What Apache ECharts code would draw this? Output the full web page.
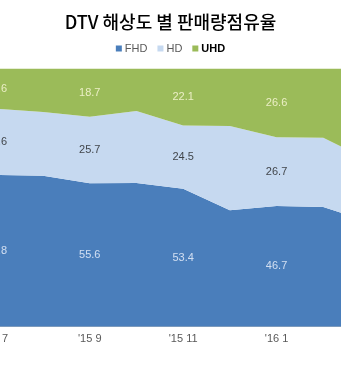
<!DOCTYPE html>
<html>
<head>
<meta charset="utf-8">
<style>
  html, body { margin: 0; padding: 0; background: #fff; }
  #chart { width: 341px; height: 381px; }
</style>
<script src="https://cdn.jsdelivr.net/npm/echarts@6/dist/echarts.min.js"></script>
</head>
<body>
<div id="chart"></div>
<script>
// Monthly share of DTV sales by resolution (%)
const months = ["'15 7", "'15 8", "'15 9", "'15 10", "'15 11", "'15 12", "'16 1", "'16 2", "'16 3"];
const fhd = [58.8, 58.5, 55.6, 55.7, 53.4, 45.1, 46.7, 46.4, 40.5];
const hd  = [25.6, 24.7, 25.7, 27.8, 24.5, 32.6, 26.7, 26.8, 23.7];
const uhd = [15.6, 16.8, 18.7, 16.5, 22.1, 22.3, 26.6, 26.8, 35.8];
// months whose values are printed on the chart
const labeledMonths = [0, 2, 4, 6, 8];

const seriesDefs = [
  { name: 'FHD', data: fhd, color: '#4a7ebb', labelColor: '#f2f6ff' },
  { name: 'HD',  data: hd,  color: '#c6d9f0', labelColor: '#1a1a1a' },
  { name: 'UHD', data: uhd, color: '#9bbb59', labelColor: '#fffbe0' }
];

const FONT = "'Liberation Sans', 'DejaVu Sans', sans-serif";

const series = [];
const base = months.map(() => 0);
seriesDefs.forEach(def => {
  series.push({
    name: def.name,
    type: 'line',
    stack: 'share',
    data: def.data,
    symbol: 'none',
    lineStyle: { width: 0 },
    itemStyle: { color: def.color },
    areaStyle: { color: def.color, opacity: 1 },
    z: 2
  });
  // value labels sit in the middle of each band
  const mids = labeledMonths.map(i => ({
    value: [i, base[i] + def.data[i] / 2],
    shown: def.data[i]
  }));
  series.push({
    name: def.name + '-label',
    type: 'scatter',
    data: mids,
    symbolSize: 0,
    silent: true,
    z: 5,
    label: {
      show: true,
      position: 'inside',
      formatter: p => p.data.shown.toFixed(1),
      color: def.labelColor,
      fontFamily: FONT,
      fontSize: 11
    }
  });
  def.data.forEach((v, i) => { base[i] += v; });
});

const chart = echarts.init(document.getElementById('chart'), null, { renderer: 'canvas' });
chart.setOption({
  animation: false,
  backgroundColor: '#ffffff',
  title: {
    text: 'DTV 해상도 별 판매량점유율',
    left: 'center',
    top: 8,
    textStyle: {
      fontFamily: "'Noto Sans CJK KR', sans-serif",
      fontSize: 18,
      fontWeight: 500,
      color: '#000'
    }
  },
  legend: {
    top: 38,
    left: 'center',
    icon: 'rect',
    itemWidth: 6,
    itemHeight: 6,
    itemGap: 10,
    textStyle: { fontFamily: FONT, fontSize: 11, color: '#595959', padding: [0, 0, 0, -2] },
    data: [
      { name: 'FHD' },
      { name: 'HD' },
      { name: 'UHD', textStyle: { color: '#000', fontWeight: 'bold' } }
    ]
  },
  grid: {
    left: -27,
    top: 68.5,
    width: 420.3,
    height: 258.2,
    containLabel: false,
    outerBoundsMode: 'none'
  },
  xAxis: {
    type: 'category',
    data: months,
    boundaryGap: true,
    axisLine: { show: true, lineStyle: { color: '#bfbfbf', width: 1 } },
    axisTick: { show: false },
    axisLabel: {
      interval: (i) => i % 2 === 0,
      margin: 7,
      fontFamily: FONT,
      fontSize: 11,
      color: '#595959'
    },
    splitLine: { show: false }
  },
  yAxis: {
    type: 'value',
    min: 0,
    max: 100,
    show: false,
    splitLine: { show: false }
  },
  series: series
});
</script>
</body>
</html>
